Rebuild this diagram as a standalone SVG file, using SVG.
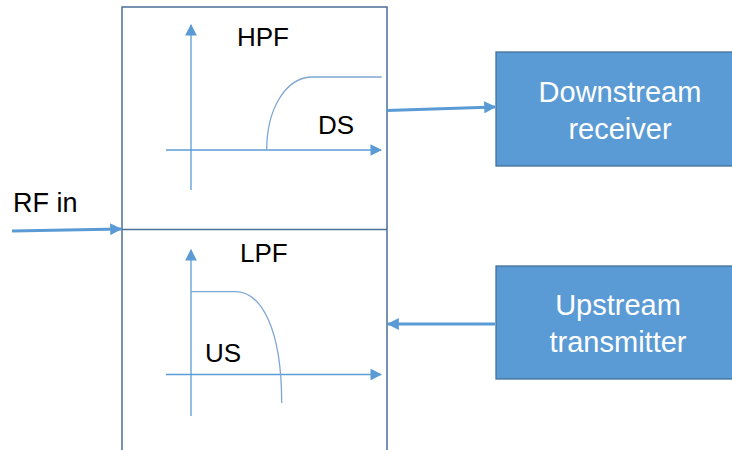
<svg xmlns="http://www.w3.org/2000/svg" width="732" height="450" viewBox="0 0 732 450">
  <defs>
    <marker id="tri" viewBox="0 0 10 10" refX="9" refY="5" markerWidth="4" markerHeight="4" orient="auto" markerUnits="strokeWidth">
      <path d="M0,0 L10,5 L0,10 z" fill="#5B9BD5"/>
    </marker>
    <marker id="triSmall" viewBox="0 0 10 10" refX="9" refY="5" markerWidth="9" markerHeight="9" orient="auto" markerUnits="strokeWidth">
      <path d="M0,0 L10,5 L0,10 z" fill="#5B9BD5"/>
    </marker>
    <style>
      .frame { fill: none; stroke: #4A6F97; stroke-width: 1.5; }
      .axis { fill: none; stroke: #5B9BD5; stroke-width: 1.3; }
      .curve { fill: none; stroke: #7FA7D3; stroke-width: 1.3; }
      .link { fill: none; stroke: #5B9BD5; stroke-width: 3; }
      .box { fill: #5B9BD5; stroke: #41719C; stroke-width: 1.3; }
      .lbl { font-family: "Liberation Sans", Arial, sans-serif; font-size: 26px; fill: #000; }
      .boxtxt { font-family: "Liberation Sans", Arial, sans-serif; font-size: 29px; fill: #fff; text-anchor: middle; }
    </style>
  </defs>

  <!-- diplexer frame: high-pass and low-pass halves -->
  <g id="diplexer">
    <path class="frame" d="M122,450 V7 H387 V450"/>
    <line class="frame" x1="122" y1="229.5" x2="387" y2="229.5"/>
  </g>

  <!-- high-pass response -->
  <g id="hpf">
    <line class="axis" x1="191" y1="190" x2="191" y2="25" marker-end="url(#triSmall)"/>
    <line class="axis" x1="166" y1="150" x2="381" y2="150" marker-end="url(#triSmall)"/>
    <path class="curve" d="M266.7,150 C266.7,110 285,77 313,77 H381.7"/>
    <text class="lbl" x="237" y="46">HPF</text>
    <text class="lbl" x="318" y="134">DS</text>
  </g>

  <!-- low-pass response -->
  <g id="lpf">
    <line class="axis" x1="191" y1="416" x2="191" y2="250" marker-end="url(#triSmall)"/>
    <line class="axis" x1="166" y1="374.5" x2="381" y2="374.5" marker-end="url(#triSmall)"/>
    <path class="curve" d="M191,291.7 H235 C262,291.7 281.7,330 281.7,403"/>
    <text class="lbl" x="240" y="262">LPF</text>
    <text class="lbl" x="205" y="362">US</text>
  </g>

  <g id="rf-in">
    <text class="lbl" x="13" y="212" style="font-size:27px">RF in</text>
  </g>

  <g id="downstream-receiver">
    <rect class="box" x="496" y="52" width="240" height="114"/>
    <text class="boxtxt" x="620" y="102">Downstream</text>
    <text class="boxtxt" x="620" y="139">receiver</text>
  </g>

  <g id="upstream-transmitter">
    <rect class="box" x="496" y="266" width="240" height="113"/>
    <text class="boxtxt" x="618" y="315">Upstream</text>
    <text class="boxtxt" x="618" y="352">transmitter</text>
  </g>

  <g id="connectors">
    <line class="link" x1="12" y1="231" x2="121" y2="229" marker-end="url(#tri)"/>
    <line class="link" x1="387" y1="110.5" x2="495" y2="107" marker-end="url(#tri)"/>
    <line class="link" x1="495" y1="324" x2="388" y2="324" marker-end="url(#tri)"/>
  </g>
</svg>
